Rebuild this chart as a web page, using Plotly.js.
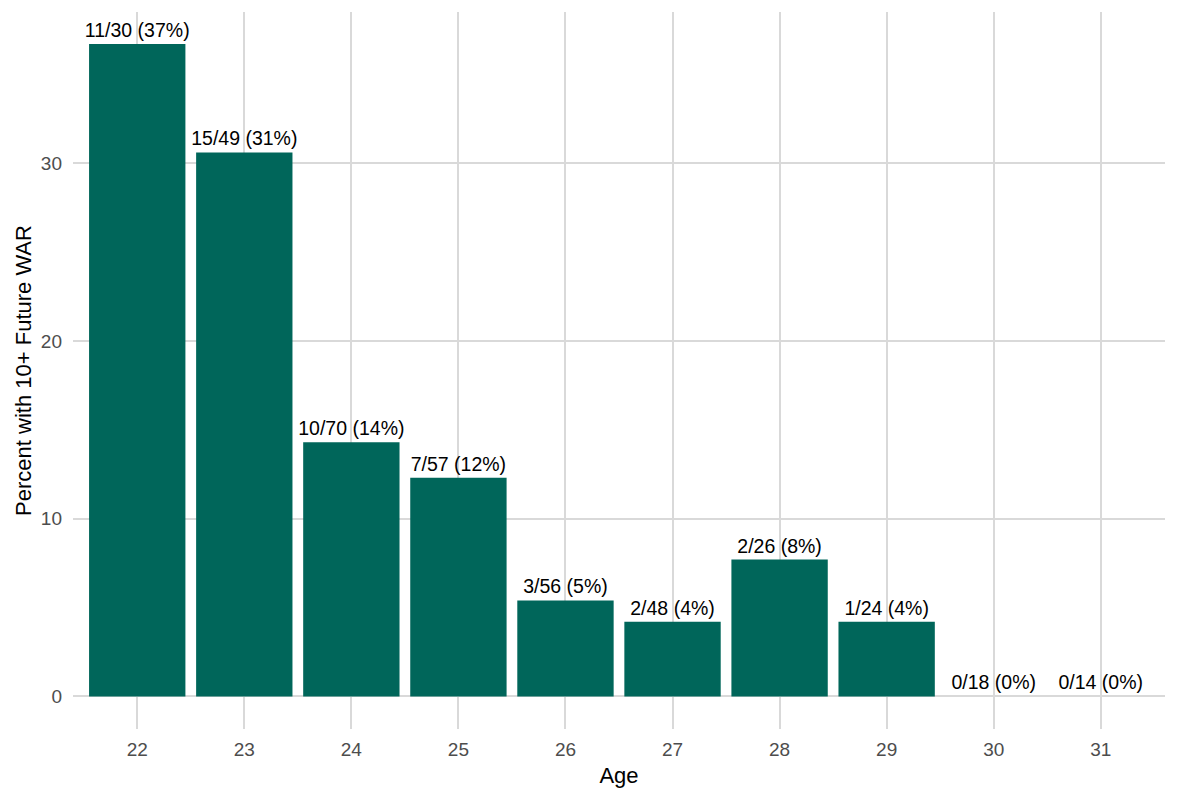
<!DOCTYPE html>
<html>
<head>
<meta charset="utf-8">
<script src="https://cdn.plot.ly/plotly-3.0.1.min.js"></script>
<style>
  html, body { margin: 0; padding: 0; background: #ffffff; }
  #chart { width: 1178px; height: 801px; }
</style>
</head>
<body>
<div id="chart"></div>
<script>
const ages = ["22", "23", "24", "25", "26", "27", "28", "29", "30", "31"];
const hits = [11, 15, 10, 7, 3, 2, 2, 1, 0, 0];
const totals = [30, 49, 70, 57, 56, 48, 26, 24, 18, 14];
const percents = [36.7, 30.6, 14.3, 12.3, 5.4, 4.2, 7.7, 4.2, 0, 0];
const barLabels = ["11/30 (37%)", "15/49 (31%)", "10/70 (14%)", "7/57 (12%)", "3/56 (5%)",
                   "2/48 (4%)", "2/26 (8%)", "1/24 (4%)", "0/18 (0%)", "0/14 (0%)"];

const font = "Liberation Sans, Arial, sans-serif";

const trace = {
  type: "bar",
  x: ages,
  y: percents,
  width: 0.9,
  marker: { color: "#00665a" },
  text: barLabels,
  textposition: "outside",
  constraintext: "none",
  cliponaxis: false,
  outsidetextfont: { family: font, size: 19.5, color: "#000000" },
  hoverinfo: "x+y"
};

const layout = {
  width: 1178,
  height: 801,
  margin: { l: 73, r: 13, t: 12, b: 72 },
  paper_bgcolor: "#ffffff",
  plot_bgcolor: "#ffffff",
  showlegend: false,
  font: { family: font, size: 19, color: "#4d4d4d" },
  xaxis: {
    type: "category",
    range: [-0.6, 9.6],
    showgrid: true,
    gridcolor: "#d9d9d9",
    gridwidth: 2,
    zeroline: false,
    showline: false,
    ticks: "",
    ticklabelstandoff: 7,
    tickfont: { family: font, size: 19, color: "#4d4d4d" },
    title: { text: "Age", font: { family: font, size: 22, color: "#000000" }, standoff: 8 }
  },
  yaxis: {
    range: [-1.83, 38.5],
    tickvals: [0, 10, 20, 30],
    showgrid: true,
    gridcolor: "#d9d9d9",
    gridwidth: 2,
    zeroline: false,
    showline: false,
    ticks: "",
    ticklabelstandoff: 10,
    tickfont: { family: font, size: 19, color: "#4d4d4d" },
    title: { text: "Percent with 10+ Future WAR", font: { family: font, size: 22, color: "#000000" }, standoff: 3 }
  }
};

Plotly.newPlot("chart", [trace], layout, { displayModeBar: false, staticPlot: true })
  .catch(error => console.error("Error rendering bar chart:", error));
</script>
</body>
</html>
